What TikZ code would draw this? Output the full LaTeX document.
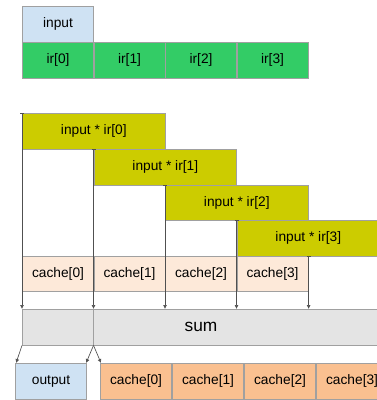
\documentclass[tikz,border=0pt]{standalone}
\usepackage{fontspec}
\setmainfont{Liberation Sans}
\usetikzlibrary{arrows.meta}
\definecolor{inblue}{HTML}{CFE2F3}
\definecolor{irgreen}{HTML}{33CC66}
\definecolor{prodyellow}{HTML}{CCCC00}
\definecolor{cachelight}{HTML}{FDE9D9}
\definecolor{cachedark}{HTML}{FAC090}
\definecolor{sumgray}{HTML}{E4E4E4}
\definecolor{edgegray}{HTML}{A0A0A0}
\definecolor{wiregray}{HTML}{505050}
\tikzset{
  cell/.style={draw=edgegray, line width=0.5pt, inner sep=0pt, anchor=north west,
    minimum width=53.6pt, minimum height=26.8pt, font=\fontsize{10.3}{12}\selectfont},
  wide/.style={cell, minimum width=107.2pt},
  feed/.style={draw=wiregray, line width=0.5pt, {Bar[width=3pt]}-{Latex[length=3pt,width=3pt]}},
  outwire/.style={draw=wiregray, line width=0.5pt, -{Latex[length=3pt,width=3pt]}}
}
\begin{document}
\begin{tikzpicture}[x=0.75pt,y=-0.75pt]
\useasboundingbox (0,0) rectangle (377,400);
\clip (0,0) rectangle (377,400);
% input sample and impulse response
\node[cell, fill=inblue] (in) at (22,6) {input};
\node[cell, fill=irgreen] (ir0) at (22,42) {ir[0]};
\node[cell, fill=irgreen] (ir1) at (93.5,42) {ir[1]};
\node[cell, fill=irgreen] (ir2) at (165,42) {ir[2]};
\node[cell, fill=irgreen] (ir3) at (236.5,42) {ir[3]};
% partial products
\node[wide, fill=prodyellow] (p0) at (22,113) {input * ir[0]};
\node[wide, fill=prodyellow] (p1) at (93.5,149) {input * ir[1]};
\node[wide, fill=prodyellow] (p2) at (165,184.5) {input * ir[2]};
\node[wide, fill=prodyellow] (p3) at (236.5,220) {input * ir[3]};
% cache before the update
\node[cell, fill=cachelight] (c0) at (22,255.5) {cache[0]};
\node[cell, fill=cachelight] (c1) at (93.5,255.5) {cache[1]};
\node[cell, fill=cachelight] (c2) at (165,255.5) {cache[2]};
\node[cell, fill=cachelight] (c3) at (236.5,255.5) {cache[3]};
% adder
\node[cell, fill=sumgray, minimum width=268pt, font=\fontsize{13}{15}\selectfont] (sum) at (22,309) {sum};
\draw[edgegray, line width=0.5pt] (p1.north west |- sum.north) -- (p1.north west |- sum.south);
% feeds into the adder
\draw[feed] (p0.north west) -- (p0.north west |- sum.north);
\draw[feed] (p1.north west) -- (p1.north west |- sum.north);
\draw[feed] (p2.north west) -- (p2.north west |- sum.north);
\draw[feed] (p3.north west) -- (p3.north west |- sum.north);
\draw[feed] (c3.north east) -- (c3.north east |- sum.north);
% results
\node[cell, fill=inblue] (out) at (15,363) {output};
\node[cell, fill=cachedark] (n0) at (100,363) {cache[0]};
\node[cell, fill=cachedark] (n1) at (172,363) {cache[1]};
\node[cell, fill=cachedark] (n2) at (244,363) {cache[2]};
\node[cell, fill=cachedark] (n3) at (316,363) {cache[3]};
\coordinate (s0) at (sum.south west);
\coordinate (s1) at (p1.north west |- sum.south);
\draw[outwire] (s0) -- ([xshift=0.8pt]out.north west);
\draw[outwire] (s1) -- ([xshift=-0.8pt]out.north east);
\draw[outwire] (s1) -- ([xshift=0.8pt]n0.north west);
\end{tikzpicture}
\end{document}
